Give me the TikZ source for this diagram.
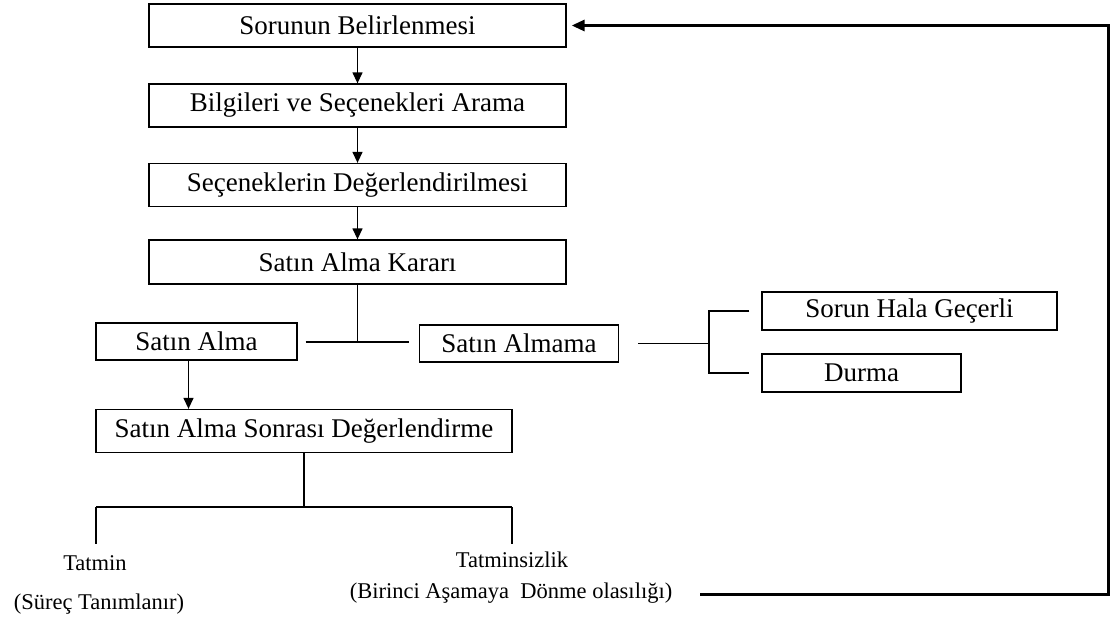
\documentclass[tikz,border=0pt]{standalone}
\usepackage{fontspec}
\setmainfont{Liberation Serif}
\usetikzlibrary{arrows.meta}

\begin{document}
\begin{tikzpicture}[x=1pt,y=-1pt,
    box/.style={draw,line width=1.3pt,inner sep=0pt,minimum height=43pt,
      font=\fontsize{27}{31}\selectfont},
    note/.style={inner sep=0pt,font=\fontsize{22.5}{26}\selectfont},
    link/.style={line width=1.3pt},
    arrow/.style={link,-{Triangle[length=11pt,width=10pt]}}]
    \useasboundingbox (0,0) rectangle (1116,622);
    % main chain
    \node[box,minimum width=417pt] (s1) at (357.5,25.5) {Sorunun Belirlenmesi};
    \node[box,minimum width=417pt] (s2) at (357.5,105.5) {Bilgileri ve Seçenekleri Arama};
    \node[box,minimum width=417pt] (s3) at (357.5,185) {Seçeneklerin Değerlendirilmesi};
    \node[box,minimum width=417pt,minimum height=44pt] (s4) at (357.5,262) {Satın Alma Kararı};
    \node[box,minimum width=201pt,minimum height=37pt] (alma) at (196.5,341.5) {Satın Alma};
    \node[box,minimum width=199pt,minimum height=37pt] (almama) at (519,343.5) {Satın Almama};
    \node[box,minimum width=295pt,minimum height=38pt] (gecerli) at (909.5,311) {Sorun Hala Geçerli};
    \node[box,minimum width=199pt,minimum height=38pt] (durma) at (861.5,373) {Durma};
    \node[box,minimum width=416pt] (sonrasi) at (304,431) {Satın Alma Sonrası Değerlendirme};
    \node[note] (tatmin) at (95,563) {Tatmin};
    \node[note] (surec) at (99,604) {(Süreç Tanımlanır)};
    \node[note] (tatminsiz) at (512,560) {Tatminsizlik};
    \node[note] (donme) at (511,593) {(Birinci Aşamaya\ \ Dönme olasılığı)};

    \coordinate (karar) at (357.5,342);
    \coordinate (dal) at (709,343.5);
    \coordinate (sol) at (96,507);
    \coordinate (sag) at (512,507);
    \coordinate (geri) at (700,594);
    \coordinate (kose) at (1108,594);
    \coordinate (inis) at ([xshift=-8pt]alma.south);

    \path[arrow]
    (s1) edge (s2)
    (s2) edge (s3)
    (s3) edge (s4);
    \draw[link] (s4.south) -- (karar);
    \draw[link,shorten <=8pt,shorten >=10pt] (alma.east |- karar) -- (almama.west |- karar);
    \draw[arrow] (inis) -- (inis |- sonrasi.north);
    \draw[link,shorten <=19pt] (almama.east) -- (dal);
    \draw[link] ([xshift=-12pt]gecerli.west) -- (dal |- gecerli.west)
      -- (dal |- durma.west) -- ([xshift=-12pt]durma.west);
    \draw[link] (sonrasi.south) -- (sonrasi.south |- sol);
    \draw[link] (sol) -- (sag);
    \draw[link] (sol) -- ++(0,37);
    \draw[link] (sag) -- ++(0,37);
    \draw[line width=3pt,-{Triangle[length=13pt,width=11pt]},shorten >=5pt]
      (geri) -- (kose) |- (s1.east);
  \end{tikzpicture}
\end{document}
